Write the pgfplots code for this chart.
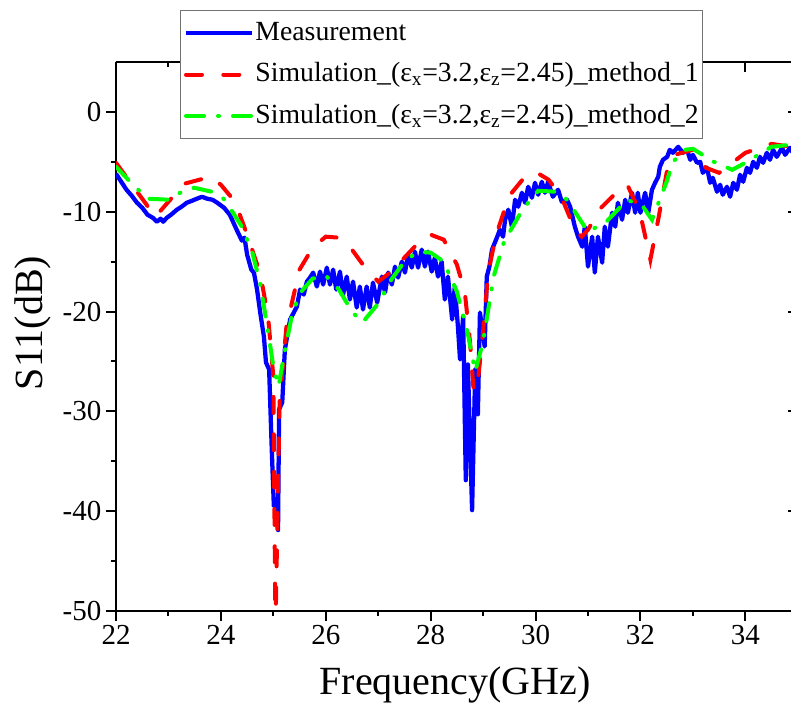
\documentclass[border=0pt]{standalone}
\usepackage{pgfplots}
\pgfplotsset{compat=1.18}
\usepackage{pgfplotstable}
\usepackage{fontspec}
\setmainfont{Liberation Serif}

\pgfplotstableread{
f s
22.00 -6.2
22.10 -7.0
22.20 -7.8
22.30 -8.4
22.40 -9.1
22.50 -9.6
22.60 -10.3
22.70 -10.6
22.78 -11.0
22.85 -10.7
22.90 -11.0
22.97 -10.6
23.05 -10.3
23.16 -9.8
23.25 -9.5
23.35 -9.1
23.45 -8.9
23.54 -8.7
23.64 -8.5
23.74 -8.7
23.84 -8.8
23.93 -9.1
24.06 -9.6
24.17 -10.3
24.30 -11.8
24.40 -12.9
24.45 -12.6
24.50 -14.3
24.58 -15.8
24.63 -16.1
24.69 -17.8
24.75 -20.1
24.82 -22.5
24.86 -25.1
24.92 -25.8
24.97 -33.8
25.01 -39.5
25.05 -38.8
25.09 -41.9
25.11 -29.8
25.17 -29.1
25.22 -23.8
25.32 -20.8
25.45 -19.5
25.51 -17.8
25.58 -18.3
25.64 -17.0
25.70 -16.6
25.76 -16.1
25.83 -17.5
25.89 -16.0
25.95 -17.3
26.02 -15.6
26.08 -17.3
26.14 -15.8
26.20 -17.8
26.27 -16.0
26.33 -18.3
26.40 -16.5
26.46 -18.8
26.52 -17.0
26.59 -19.6
26.65 -17.5
26.71 -19.8
26.78 -17.5
26.84 -19.6
26.90 -17.1
26.98 -19.1
27.07 -16.5
27.13 -18.1
27.19 -16.1
27.26 -17.3
27.32 -15.5
27.38 -16.6
27.45 -15.0
27.51 -16.1
27.57 -14.3
27.64 -15.6
27.70 -14.0
27.76 -15.6
27.83 -13.8
27.89 -15.5
27.95 -14.0
28.02 -16.0
28.08 -14.6
28.14 -16.5
28.21 -15.0
28.27 -18.8
28.33 -16.5
28.41 -20.8
28.46 -17.5
28.52 -21.5
28.56 -24.8
28.62 -20.5
28.67 -36.9
28.71 -25.3
28.79 -39.9
28.85 -25.8
28.90 -30.3
28.94 -20.1
29.03 -23.5
29.07 -16.5
29.12 -15.5
29.17 -13.8
29.27 -12.5
29.32 -11.8
29.38 -12.5
29.42 -10.8
29.48 -9.8
29.55 -11.5
29.61 -8.8
29.67 -9.5
29.74 -8.1
29.80 -9.1
29.86 -7.5
29.93 -8.6
29.99 -7.1
30.05 -8.3
30.12 -7.0
30.18 -8.1
30.24 -7.0
30.33 -8.5
30.43 -7.8
30.50 -9.0
30.60 -8.8
30.66 -9.5
30.75 -11.5
30.81 -12.5
30.89 -13.5
30.94 -11.5
31.00 -15.5
31.08 -12.5
31.13 -16.1
31.19 -12.5
31.27 -15.1
31.32 -11.5
31.38 -13.5
31.46 -10.1
31.52 -11.5
31.57 -9.1
31.65 -10.8
31.71 -8.8
31.76 -10.1
31.84 -8.1
31.90 -10.1
31.95 -8.1
32.00 -10.1
32.09 -8.1
32.15 -10.1
32.22 -7.8
32.28 -7.1
32.34 -6.5
32.37 -5.5
32.43 -4.8
32.51 -4.5
32.56 -3.8
32.62 -4.1
32.72 -3.5
32.81 -4.1
32.89 -3.8
32.95 -4.8
33.00 -4.3
33.08 -5.1
33.14 -5.0
33.19 -6.1
33.27 -5.6
33.33 -7.1
33.38 -6.6
33.46 -8.0
33.52 -7.3
33.57 -8.3
33.65 -7.5
33.71 -8.5
33.77 -7.1
33.84 -7.8
33.90 -6.3
33.96 -7.0
34.03 -5.6
34.09 -6.1
34.15 -5.0
34.22 -5.6
34.28 -4.5
34.34 -5.1
34.41 -4.1
34.47 -4.8
34.53 -3.8
34.60 -4.5
34.70 -3.6
34.76 -4.3
34.85 -3.6
34.92 -4.2
35.00 -3.8
}\meas

\pgfplotstableread{
f s
22.00 -5.1
22.75 -10.5
23.30 -7.2
23.80 -6.5
24.00 -7.3
24.27 -9.0
24.50 -12.3
24.75 -16.2
24.90 -20.5
25.00 -26.5
25.04 -52.0
25.12 -29.0
25.25 -21.5
25.50 -15.8
25.75 -13.6
26.00 -12.5
26.25 -12.6
26.50 -13.8
26.75 -15.6
27.00 -17.0
27.25 -16.0
27.50 -14.6
27.75 -13.2
28.00 -12.3
28.25 -12.8
28.50 -15.3
28.65 -18.0
28.75 -23.0
28.82 -28.0
28.90 -27.0
29.00 -22.0
29.10 -16.0
29.25 -12.3
29.50 -8.4
29.75 -6.8
30.00 -6.0
30.25 -6.8
30.50 -8.6
30.75 -11.8
30.88 -12.5
31.00 -11.8
31.25 -9.6
31.50 -8.3
31.75 -7.3
31.90 -9.0
32.03 -11.0
32.19 -14.8
32.35 -10.5
32.50 -6.1
32.65 -4.3
33.00 -3.8
33.25 -5.6
33.50 -6.1
33.75 -5.1
34.00 -4.1
34.50 -3.2
35.00 -3.6
}\simA

\pgfplotstableread{
f s
22.00 -5.5
22.27 -7.0
22.60 -8.7
23.03 -8.8
23.22 -8.1
23.49 -7.6
23.83 -8.0
24.05 -8.7
24.17 -9.6
24.40 -11.5
24.60 -14.1
24.75 -17.2
24.90 -22.0
25.00 -25.5
25.10 -27.5
25.20 -24.5
25.35 -20.5
25.50 -18.2
25.75 -16.7
26.00 -16.4
26.25 -17.8
26.50 -20.0
26.70 -21.1
27.00 -19.2
27.25 -16.8
27.50 -15.0
27.75 -14.0
28.00 -14.1
28.25 -15.0
28.50 -18.0
28.70 -22.0
28.85 -26.0
29.00 -23.0
29.20 -16.5
29.40 -13.0
29.75 -9.8
30.05 -7.9
30.40 -8.0
30.60 -8.8
31.00 -12.0
31.35 -11.0
31.75 -8.8
32.05 -9.5
32.22 -10.8
32.50 -7.0
32.62 -5.0
32.85 -3.8
33.00 -3.7
33.40 -5.0
33.75 -5.8
34.00 -5.1
34.50 -3.5
35.00 -3.2
}\simB

\pgfplotsset{
  common/.style={
    scale only axis,
    width=511.3pt, height=411.75pt,
    at={(87pt,70.5pt)}, anchor=south west,
    xmin=22, xmax=35, ymin=-50, ymax=5,
    xtick={22,24,...,34}, ytick={-50,-40,...,0},
    minor x tick num=1, minor y tick num=1,
    major tick length=7.5pt, minor tick length=3.75pt,
    tick style={black, line width=1.5pt},
    axis line style={black, line width=1.8pt},
    /pgf/number format/assume math mode=true,
    tick label style={font=\fontsize{21.75pt}{26pt}\selectfont},
    label style={font=\fontsize{30pt}{36pt}\selectfont},
  }
}

\begin{document}
\begin{tikzpicture}
\path[use as bounding box] (0,0) rectangle (593.25pt,528.75pt);
\clip (0,0) rectangle (593.25pt,528.75pt);

\begin{axis}[common,
  axis x line*=top, axis y line*=right,
  tick align=inside,
  xticklabels={}, yticklabels={},
]
\end{axis}

\begin{axis}[common,
  axis x line*=bottom, axis y line*=left,
  tick align=outside,
  xlabel={Frequency(GHz)}, ylabel={S11(dB)},
  xlabel style={at={(axis description cs:0.4973,-0.1530)}, anchor=base},
  ylabel style={at={(axis description cs:-0.1071,0.5246)}, anchor=base},
  legend cell align=left,
  legend image code/.code={\draw[#1] (0pt,0pt) -- (49.5pt,0pt);},
  legend style={at={(axis description cs:0.0939,1.0947)}, anchor=north west,
    fill=white, draw=black!55, line width=0.75pt,
    font=\fontsize{20.8pt}{25pt}\selectfont,
    inner xsep=2.5pt, inner ysep=6.5pt, row sep=10pt,
    nodes={inner sep=0pt, text height=16pt, text depth=5pt},
    column sep=1pt},
]
\addplot[blue, line width=3.2pt, line join=round] table[x=f,y=s]{\meas};
\addlegendentry{Measurement}
\addplot[red, line width=3pt, line cap=round, dash pattern=on 12pt off 16pt] table[x=f,y=s]{\simA};
\addlegendentry{Simulation\_(ε\textsubscript{x}=3.2,ε\textsubscript{z}=2.45)\_method\_1}
\addplot[green, line width=3pt, line cap=round, dash pattern=on 13.5pt off 10.5pt on 0.75pt off 10.5pt] table[x=f,y=s]{\simB};
\addlegendentry{Simulation\_(ε\textsubscript{x}=3.2,ε\textsubscript{z}=2.45)\_method\_2}
\end{axis}
\end{tikzpicture}
\end{document}
